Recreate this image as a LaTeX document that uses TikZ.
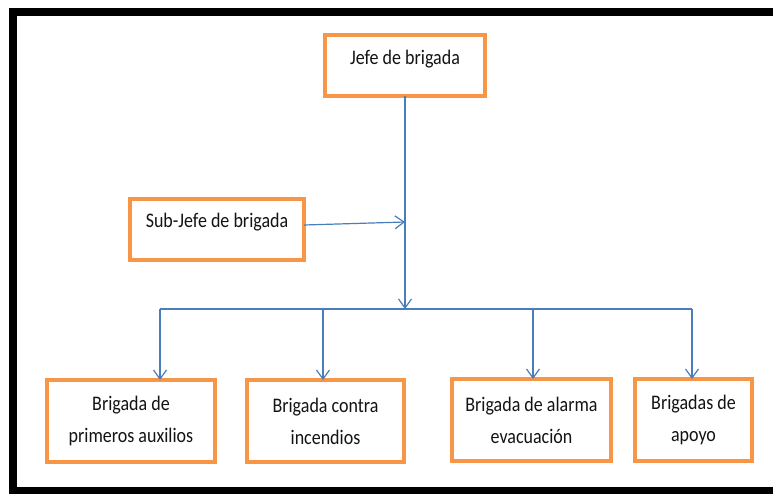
\documentclass[tikz,border=0pt]{standalone}
\usepackage{fontspec}
\usepackage{graphicx}
\setmainfont{Carlito}
\usetikzlibrary{arrows.meta}
\definecolor{boxorange}{HTML}{F79646}
\definecolor{connblue}{HTML}{4A7EBB}
\definecolor{txtcol}{HTML}{141414}
\newcommand{\vstr}[1]{\scalebox{1}[1.15]{#1}}
\tikzset{
  orgbox/.style={draw=boxorange, line width=4pt, fill=white, inner sep=0pt, outer sep=0pt,
    align=center, text=txtcol, font=\fontsize{18}{32}\selectfont},
  lbl/.style={inner sep=0pt, text=txtcol, font=\fontsize{18}{22}\selectfont, anchor=base},
  conn/.style={draw=connblue, line width=1.2pt},
  arr/.style={conn, -{Straight Barb[length=9pt,width=13pt,line width=1.2pt]}}
}
\begin{document}
\begin{tikzpicture}[x=1pt,y=-1pt]
\useasboundingbox (0,0) rectangle (773,493);
\fill[white] (0,0) rectangle (773,493);
% frame
\draw[line width=8pt, black] (13,11.5) rectangle (790,491);
% boxes
\node[orgbox, minimum width=160pt, minimum height=61pt] (jefe) at (405,65.5) {};
\node[lbl] (jefet) at (405,64) {\vstr{Jefe de brigada}};
\node[orgbox, minimum width=174pt, minimum height=61pt] (sub) at (217,229.5) {};
\node[lbl] (subt) at (217,227) {\vstr{Sub-Jefe de brigada}};
\node[orgbox, minimum width=168pt, minimum height=82pt] (b1) at (131,421) {\vstr{Brigada de}\\\vstr{primeros auxilios}};
\node[orgbox, minimum width=157pt, minimum height=82pt] (b2) at (325.5,421) {\vstr{Brigada contra}\\\vstr{incendios}};
\node[orgbox, minimum width=159pt, minimum height=82pt] (b3) at (531.5,420) {\vstr{Brigada de alarma}\\\vstr{evacuación}};
\node[orgbox, minimum width=117pt, minimum height=82pt] (b4) at (693.5,420) {\vstr{Brigadas de}\\\vstr{apoyo}};
% connectors
\coordinate (bus) at (405,309);
\coordinate (subend) at (405,222);
\coordinate (j1) at (160,309);
\coordinate (j2) at (323,309);
\coordinate (j3) at (533,309);
\coordinate (j4) at (692,309);
\draw[arr] (jefe.south) -- (bus);
\draw[arr] (sub.east |- 0,225) -- (subend);
\draw[conn] (j1) -- (j4);
\draw[arr] (j1) -- (j1 |- b1.north);
\draw[arr] (j2) -- (j2 |- b2.north);
\draw[arr] (j3) -- (j3 |- b3.north);
\draw[arr] (j4) -- (j4 |- b4.north);
\end{tikzpicture}
\end{document}
